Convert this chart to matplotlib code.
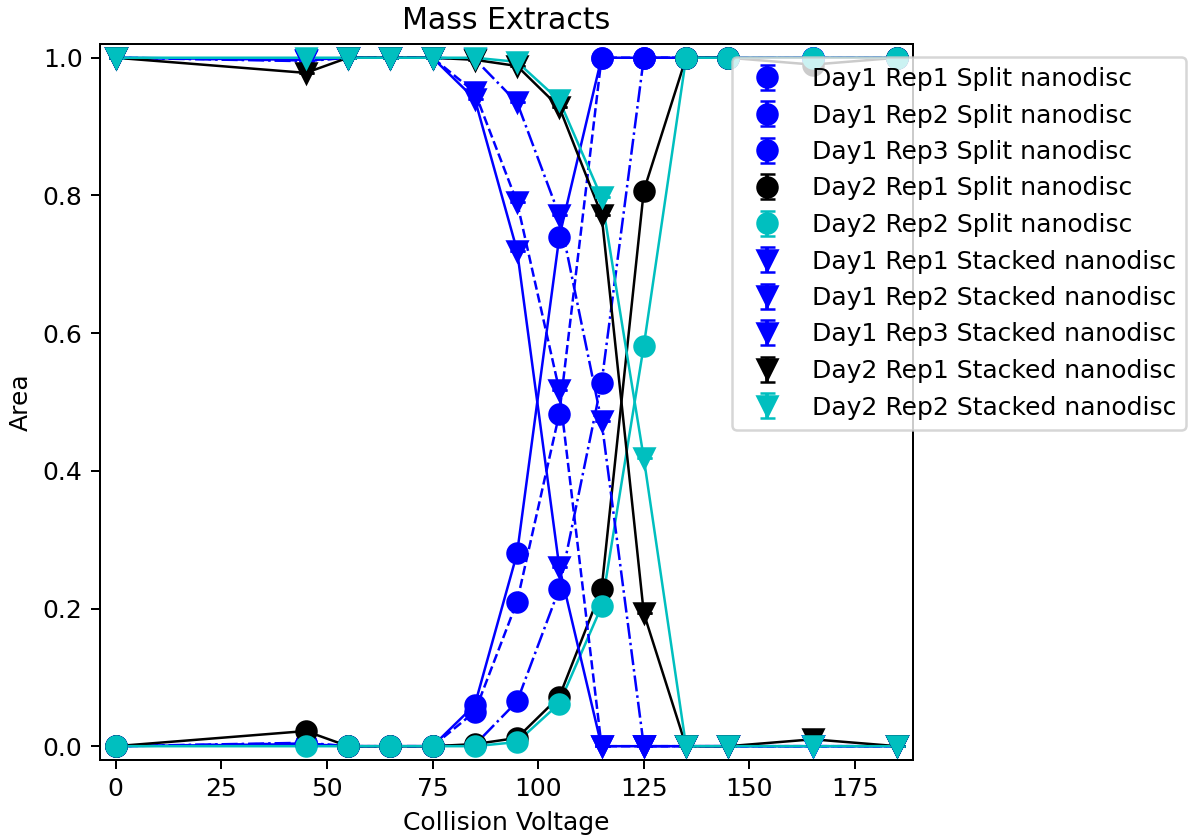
import numpy as np
import matplotlib
matplotlib.use('Agg')
import matplotlib.pyplot as plt

voltage = [0, 45, 55, 65, 75, 85, 95, 105, 115, 125, 135, 145, 165, 185]

# split nanodisc fraction
d1r1_split = [0, 0.003, 0, 0, 0, 0.060, 0.280, 0.740, 1.0, 1.0, 1.0, 1.0, 1.0, 1.0]
d1r2_split = [0, 0.004, 0, 0, 0, 0.050, 0.210, 0.483, 1.0, 1.0, 1.0, 1.0, 1.0, 1.0]
d1r3_split = [0, 0.005, 0, 0, 0, 0.002, 0.065, 0.229, 0.528, 1.0, 1.0, 1.0, 1.0, 1.0]
d2r1_split = [0, 0.022, 0, 0, 0, 0.003, 0.012, 0.072, 0.228, 0.807, 1.0, 1.0, 0.990, 1.0]
d2r2_split = [0, 0, 0, 0, 0, 0, 0.006, 0.062, 0.203, 0.582, 1.0, 1.0, 1.0, 1.0]

# stacked nanodisc fraction
d1r1_stack = [1.0, 0.997, 1.0, 1.0, 1.0, 0.940, 0.720, 0.260, 0, 0, 0, 0, 0, 0]
d1r2_stack = [1.0, 0.996, 1.0, 1.0, 1.0, 0.950, 0.790, 0.517, 0, 0, 0, 0, 0, 0]
d1r3_stack = [1.0, 0.995, 1.0, 1.0, 1.0, 0.998, 0.935, 0.771, 0.472, 0, 0, 0, 0, 0]
d2r1_stack = [1.0, 0.978, 1.0, 1.0, 1.0, 0.997, 0.988, 0.928, 0.772, 0.193, 0, 0, 0.010, 0]
d2r2_stack = [1.0, 1.0, 1.0, 1.0, 1.0, 1.0, 0.994, 0.938, 0.797, 0.418, 0, 0, 0, 0]

names = ['Day1 Rep1', 'Day1 Rep2', 'Day1 Rep3', 'Day2 Rep1', 'Day2 Rep2']
colours = ['b', 'b', 'b', 'k', 'c']
styles = ['-', '--', '-.', '-', '-']
split_sets = [d1r1_split, d1r2_split, d1r3_split, d2r1_split, d2r2_split]
stack_sets = [d1r1_stack, d1r2_stack, d1r3_stack, d2r1_stack, d2r2_stack]

fig = plt.figure(figsize=(1188 / 180, 839 / 180), dpi=180)
ax = fig.add_axes([0.0842, 0.0942, 0.6843, 0.8534])

x = np.array(voltage)
for kind, marker, sets in [('Split', 'o', split_sets), ('Stacked', 'v', stack_sets)]:
    for name, c, ls, y in zip(names, colours, styles, sets):
        y = np.array(y)
        ax.plot(x, y, color=c, linestyle=ls, linewidth=1)
        ax.errorbar(x, y, yerr=np.zeros_like(y), fmt=marker, color=c,
                    markersize=8, capsize=3, label=f'{name} {kind} nanodisc')

ax.margins(0.02)
ax.set_title('Mass Extracts', fontsize=12)
ax.set_xlabel('Collision Voltage')
ax.set_ylabel('Area')
ax.legend(loc='upper left', bbox_to_anchor=(719.5 / 1188, 1 - 44.5 / 839),
          bbox_transform=fig.transFigure)

fig.savefig('out.png', dpi=180)
